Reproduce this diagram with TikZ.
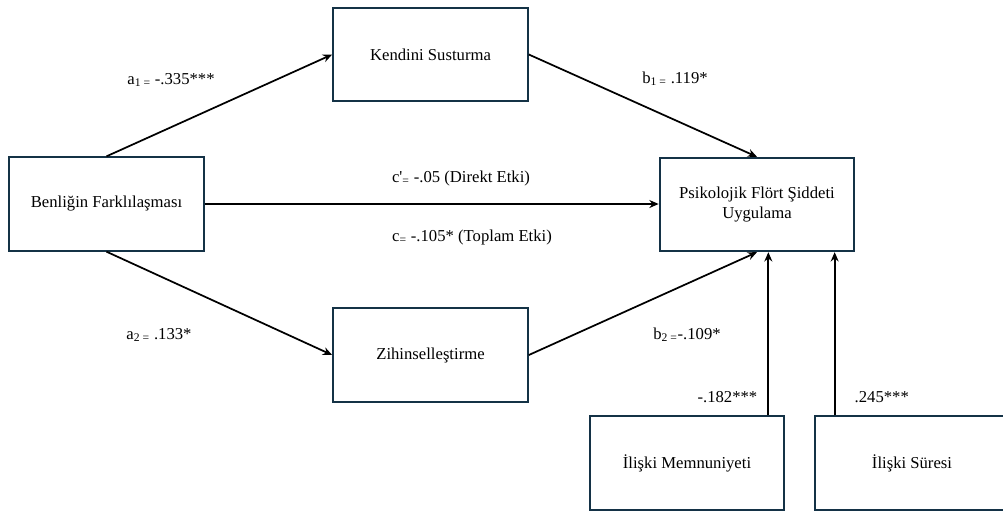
\documentclass[tikz,border=0pt]{standalone}
\usepackage{fontspec}
\setmainfont{Liberation Serif}
\usepackage{xcolor}
\usepackage{tikz}
\usetikzlibrary{arrows.meta}
\definecolor{boxline}{HTML}{143246}

\begin{document}
\begin{tikzpicture}[x=0.75pt, y=-0.75pt,
    font=\fontsize{12.5}{15}\selectfont,
    var/.style={draw=boxline, line width=1.5pt, minimum width=146pt, minimum height=70pt, align=center, inner sep=2pt},
    arr/.style={-{Stealth[length=7pt, width=6pt]}, line width=1.3pt}]
    \useasboundingbox (0,0) rectangle (1003,512);
    \clip (0,0) rectangle (1003,512);
    \node[var] (ben) at (106.5,204) {Benliğin Farklılaşması};
    \node[var] (ken) at (430.5,54.5) {Kendini Susturma};
    \node[var] (zih) at (430.5,355) {Zihinselleştirme};
    \node[var] (psi) at (757,204.5) {Psikolojik Flört Şiddeti\\Uygulama};
    \node[var] (mem) at (687,463) {İlişki Memnuniyeti};
    \node[var] (sur) at (912,463) {İlişki Süresi};
    \draw[arr] (ben.north) -- (ken.west);
    \draw[arr] (ben.south) -- (zih.west);
    \draw[arr] (ben.east) -- (ben.east -| psi.west);
    \draw[arr] (ken.east) -- (psi.north);
    \draw[arr] (zih.east) -- (psi.south);
    \draw[arr] ([xshift=-12.75pt]mem.north east) -- ([xshift=-12.75pt]mem.north east |- psi.south);
    \draw[arr] ([xshift=15.75pt]sur.north west) -- ([xshift=15.75pt]sur.north west |- psi.south);
    \node (a1) at (171,80) {a\textsubscript{1 =} -.335***};
    \node (b1) at (675,79) {b\textsubscript{1 =} .119*};
    \node (cdir) at (461,178) {c\textquotesingle\textsubscript{=} -.05 (Direkt Etki)};
    \node (ctop) at (472,237) {c\textsubscript{=} -.105* (Toplam Etki)};
    \node (a2) at (159,335) {a\textsubscript{2 =} .133*};
    \node (b2) at (687,335) {b\textsubscript{2 =}-.109*};
    \node[anchor=east] (mk) at (762,397) {-.182***};
    \node[anchor=west] (sk) at (850,397) {.245***};
\end{tikzpicture}
\end{document}
